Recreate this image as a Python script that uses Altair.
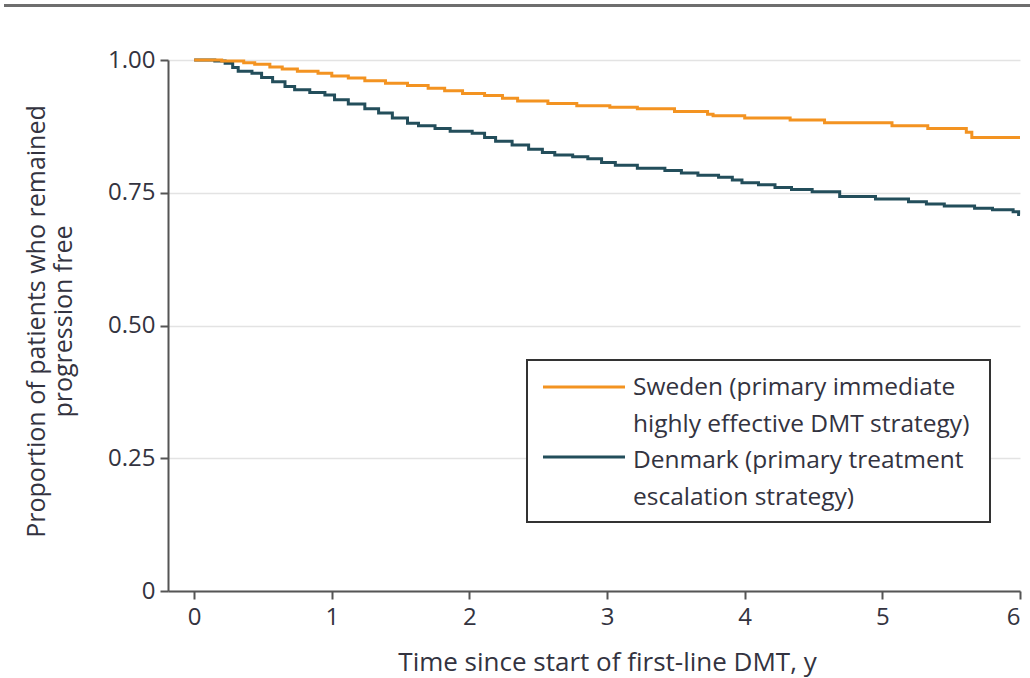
import altair as alt
import pandas as pd

# ---- data ----
sweden_t = [0.00, 0.20, 0.36, 0.44, 0.55, 0.64, 0.75, 0.90, 1.00, 1.12, 1.24, 1.39,
            1.55, 1.70, 1.82, 1.95, 2.11, 2.24, 2.35, 2.57, 2.78, 3.02, 3.22, 3.49,
            3.73, 3.77, 4.00, 4.33, 4.58, 5.07, 5.33, 5.61, 5.65, 6.00]
sweden_v = [1.000, 0.998, 0.995, 0.992, 0.987, 0.983, 0.979, 0.975, 0.970, 0.966, 0.961, 0.956,
            0.952, 0.947, 0.942, 0.937, 0.933, 0.928, 0.923, 0.918, 0.914, 0.911, 0.908, 0.903,
            0.898, 0.895, 0.891, 0.887, 0.882, 0.876, 0.871, 0.864, 0.854, 0.854]

denmark_t = [0.00, 0.15, 0.225, 0.28, 0.32, 0.42, 0.49, 0.57, 0.66, 0.73, 0.84, 0.95,
             1.02, 1.12, 1.24, 1.34, 1.44, 1.55, 1.63, 1.75, 1.86, 2.02, 2.11, 2.19,
             2.31, 2.43, 2.53, 2.62, 2.75, 2.86, 2.96, 3.06, 3.22, 3.42, 3.54, 3.66,
             3.81, 3.91, 3.98, 4.10, 4.22, 4.34, 4.49, 4.69, 4.95, 5.19, 5.32, 5.45,
             5.67, 5.80, 5.95, 5.99, 6.00]
denmark_v = [1.000, 0.998, 0.994, 0.986, 0.979, 0.975, 0.967, 0.959, 0.950, 0.944, 0.939, 0.934,
             0.925, 0.917, 0.908, 0.900, 0.891, 0.881, 0.876, 0.871, 0.866, 0.862, 0.854, 0.847,
             0.840, 0.832, 0.826, 0.821, 0.818, 0.814, 0.807, 0.802, 0.796, 0.792, 0.787, 0.783,
             0.779, 0.774, 0.769, 0.765, 0.760, 0.756, 0.752, 0.743, 0.738, 0.733, 0.729, 0.725,
             0.721, 0.718, 0.714, 0.709, 0.709]

series_names = ["Sweden", "Denmark"]
series_colors = ["#F39321", "#234E5B"]
legend_labels = ["Sweden (primary immediate\nhighly effective DMT strategy)",
                 "Denmark (primary treatment\nescalation strategy)"]
x_ticks = [0, 1, 2, 3, 4, 5, 6]
y_ticks = [0, 0.25, 0.5, 0.75, 1.0]

FONT = "Open Sans"
TXT = "#333340"

df_sw = pd.DataFrame({"t": sweden_t, "v": sweden_v, "s": "Sweden"})
df_dk = pd.DataFrame({"t": denmark_t, "v": denmark_v, "s": "Denmark"})

W, H = 852, 531

xenc = alt.X("t:Q",
             scale=alt.Scale(domain=[-0.19, 6], nice=False, zero=False),
             axis=alt.Axis(values=x_ticks, title="Time since start of first-line DMT, y",
                           grid=False, format="d", titleFontSize=26,
                           titleX=439, titleY=79, titleAlign="center",
                           titleBaseline="alphabetic"))
yenc = alt.Y("v:Q",
             scale=alt.Scale(domain=[0, 1], nice=False),
             axis=alt.Axis(values=y_ticks,
                           title=["Proportion of patients who remained", "progression free"],
                           labelExpr="datum.value == 0 ? '0' : format(datum.value, '.2f')",
                           grid=True, gridColor="#e3e3e3", gridWidth=1.5,
                           titleX=-132, titleY=261, titleAlign="center",
                           titleBaseline="middle", titleAngle=-90, titleLineHeight=27))
cscale = alt.Scale(domain=series_names, range=series_colors)

dk = alt.Chart(df_dk).mark_line(interpolate="step-after", strokeWidth=3).encode(
    x=xenc, y=yenc, color=alt.Color("s:N", scale=cscale, legend=None))
sw = alt.Chart(df_sw).mark_line(interpolate="step-after", strokeWidth=3).encode(
    x="t:Q", y="v:Q", color=alt.Color("s:N", scale=cscale, legend=None))

# top border line
border = alt.Chart(pd.DataFrame({"a": [0]})).mark_rule(color="#6e6e6e", strokeWidth=3).encode(
    x=alt.value(4 - 168), x2=alt.value(1030 - 168), y=alt.value(5.5 - 60))

# legend box
leg_box = alt.Chart(pd.DataFrame({"a": [0]})).mark_rect(
    fill="white", stroke="#333333", strokeWidth=2).encode(
    x=alt.value(359), x2=alt.value(822), y=alt.value(300), y2=alt.value(462))

leg_df = pd.DataFrame({"s": series_names, "label": legend_labels})
leg_items = []
for i, (name, lab) in enumerate(zip(series_names, legend_labels)):
    sub = leg_df[leg_df.s == name]
    ly = 327 + i * 70
    by = 335 + i * 73
    line = alt.Chart(sub).mark_rule(strokeWidth=3).encode(
        x=alt.value(375), x2=alt.value(457), y=alt.value(ly),
        color=alt.Color("s:N", scale=cscale, legend=None))
    txt = alt.Chart(sub).mark_text(align="left", baseline="alphabetic", font=FONT,
                                   fontSize=24.5, color=TXT, lineBreak="\n",
                                   lineHeight=36.5).encode(
        x=alt.value(465), y=alt.value(by), text="label:N")
    leg_items += [line, txt]

chart = alt.layer(dk, sw, border, leg_box, *leg_items).properties(
    width=W, height=H,
    autosize=alt.AutoSizeParams(type="none"),
    padding={"left": 168, "top": 60, "right": 10, "bottom": 87},
).configure_view(stroke=None).configure_axis(
    domainColor="#555555", domainWidth=2, tickColor="#555555", tickWidth=2, tickSize=8,
    labelFont=FONT, labelFontSize=24, labelColor=TXT, labelPadding=5,
    titleFont=FONT, titleFontSize=25, titleColor=TXT, titleFontWeight="normal",
).configure_axisX(labelPadding=6)

chart.save("out.html", embed_options={"renderer": "svg", "actions": False})
